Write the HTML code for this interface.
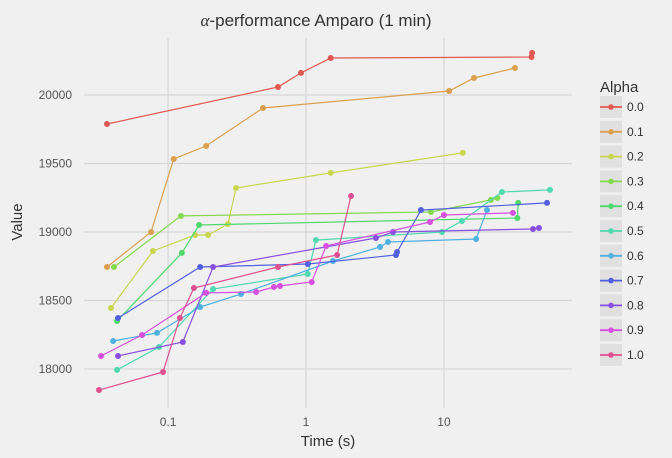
<!DOCTYPE html>
<html><head><meta charset="utf-8"><style>
body{margin:0;background:#f0f0f0;font-family:"Liberation Sans",sans-serif;}
svg{display:block}
</style></head><body>
<svg id="chart" width="672" height="458" xmlns="http://www.w3.org/2000/svg">
<rect width="672" height="458" fill="#f0f0f0"/>
<g id="grid"></g>
<g id="series"></g>
<g id="axes"></g>
<text x="316" y="26" text-anchor="middle" font-size="17" fill="#333"><tspan font-style="italic" font-family="Liberation Serif">α</tspan>-performance Amparo (1 min)</text>
<text x="328" y="446" text-anchor="middle" font-size="15" fill="#333">Time (s)</text>
<text x="22" y="222" text-anchor="middle" font-size="15" fill="#333" transform="rotate(-90 22 222)">Value</text>
<g id="legend">
<text x="600" y="92" font-size="15" fill="#333">Alpha</text>
</g>
</svg>
<script>
const alphaLabels=["0.0","0.1","0.2","0.3","0.4","0.5","0.6","0.7","0.8","0.9","1.0"];
const colors=["#e0584f","#dba04f","#c8d650","#85d94f","#50d86c","#50d9b1","#50b0e0","#5060e0","#8850e0","#d650e0","#e0508f"];
const xTicks=[0.1,1,10];
const xTickLabels=["0.1","1","10"];
const yTicks=[18000,18500,19000,19500,20000];
const yTickLabels=["18000","18500","19000","19500","20000"];
const times=[
[0.0361,0.627,0.92,1.51,43.1,43.5],
[0.0361,0.0753,0.110,0.189,0.488,10.9,16.5,32.7],
[0.0386,0.0778,0.157,0.195,0.272,0.311,1.51,13.7],
[0.0406,0.124,8.05,21.9,24.4],
[0.0427,0.126,0.168,34,34.5],
[0.0427,0.086,0.212,1.03,1.18,9.68,13.5,26.3,58.6],
[0.040,0.0832,0.171,0.338,1.57,3.44,3.93,17.1,20.5],
[0.0434,0.171,1.03,4.49,4.57,6.81,55.8],
[0.0434,0.128,0.212,3.21,4.27,44.2,48.8],
[0.0327,0.0648,0.189,0.435,0.586,0.648,1.10,1.40,7.92,10,31.6],
[0.0316,0.092,0.122,0.154,0.627,1.68,2.12]
];
const values=[
[19788,20058,20161,20270,20277,20307],
[18744,19000,19533,19628,19905,20029,20124,20197],
[18445,18861,18978,18978,19058,19321,19431,19577],
[18744,19117,19146,19234,19248],
[18350,18847,19051,19102,19212],
[17993,18160,18584,18693,18941,19000,19080,19292,19307],
[18204,18263,18452,18547,18788,18890,18927,18949,19160],
[18372,18744,18766,18832,18854,19160,19212],
[18095,18197,18744,18956,19000,19022,19029],
[18095,18248,18555,18562,18598,18606,18635,18898,19073,19124,19139],
[17846,17978,18372,18591,18744,18832,19263]
];
const NS="http://www.w3.org/2000/svg";
const L=84,R=572,T=38,B=408;
const xmin=Math.log10(0.0246),xmax=Math.log10(84.7),ymin=17715,ymax=20416;
const X=v=>L+(Math.log10(v)-xmin)/(xmax-xmin)*(R-L);
const Y=v=>B-(v-ymin)/(ymax-ymin)*(B-T);
function mk(tag,attrs,parent){const e=document.createElementNS(NS,tag);for(const k in attrs)e.setAttribute(k,attrs[k]);parent.appendChild(e);return e;}
const grid=document.getElementById('grid'),axes=document.getElementById('axes'),ser=document.getElementById('series'),leg=document.getElementById('legend');
xTicks.forEach((t,i)=>{
 const l=mk('line',{x1:X(t),x2:X(t),y1:T,y2:B,stroke:'#d6d6d6','stroke-width':1.2},grid);
 
 
 const tx=mk('text',{x:X(t),y:B+18,'text-anchor':'middle','font-size':12,fill:'#555'},axes);
 tx.textContent=xTickLabels[i];
 
 
});
yTicks.forEach((t,i)=>{
 const l=mk('line',{x1:L,x2:R,y1:Y(t),y2:Y(t),stroke:'#d6d6d6','stroke-width':1.2},grid);
 
 
 const tx=mk('text',{x:L-12,y:Y(t)+4,'text-anchor':'end','font-size':12,fill:'#555'},axes);
 tx.textContent=yTickLabels[i];
 
 
});
times.forEach((ts,s)=>{
 const g=mk('g',{},ser);
 
 
 const pts=ts.map((t,i)=>X(t).toFixed(1)+','+Y(values[s][i]).toFixed(1)).join(' ');
 const pl=mk('polyline',{points:pts,fill:'none',stroke:colors[s],'stroke-width':1.2},g);
 
 
 ts.forEach((t,i)=>{
  const c=mk('circle',{cx:X(t),cy:Y(values[s][i]),r:3,fill:colors[s]},g);
  
  
 });
 const cy=107+s*24.8;
 const e=mk('g',{},leg);
 
 
 mk('rect',{x:600,y:cy-11,width:22,height:22,fill:'#e0e0e0'},e);
 mk('line',{x1:600,x2:622,y1:cy,y2:cy,stroke:colors[s],'stroke-width':1.8},e);
 mk('circle',{cx:611,cy:cy,r:2.8,fill:colors[s]},e);
 const tx=mk('text',{x:627,y:cy+4,'font-size':12,fill:'#333'},e);
 tx.textContent=alphaLabels[s];
});
</script>
</body></html>
